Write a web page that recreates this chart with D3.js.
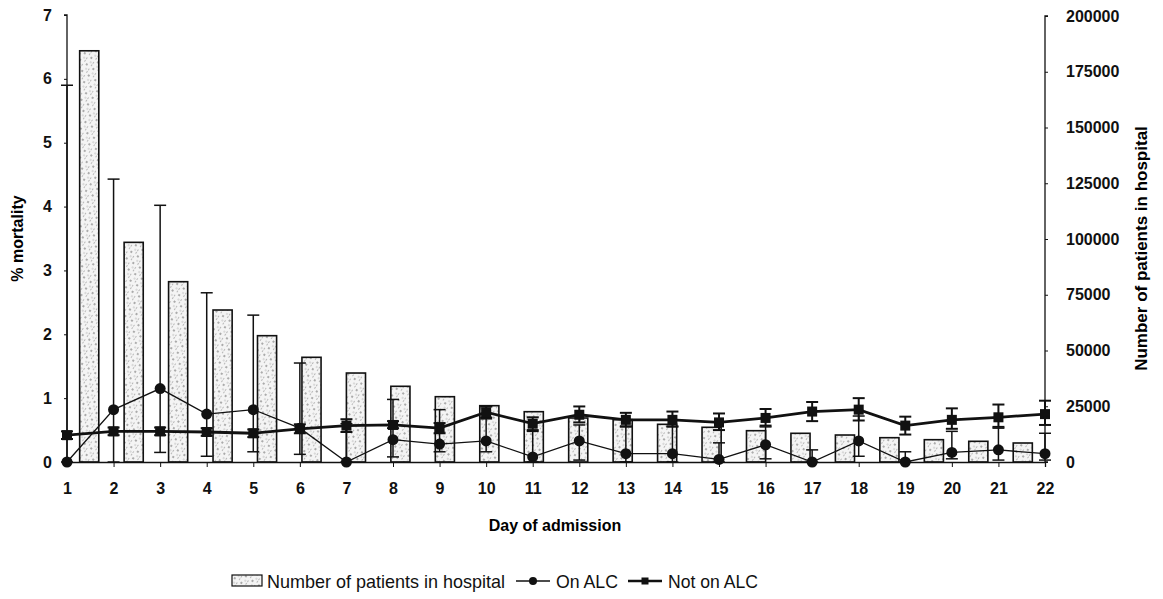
<!DOCTYPE html>
<html>
<head>
<meta charset="utf-8">
<script src="https://cdn.jsdelivr.net/npm/d3@7"></script>
<style>
  body { margin: 0; background: #fff; }
  svg { display: block; font-family: "Liberation Sans", Arial, sans-serif; }
</style>
</head>
<body>
<svg id="chart"></svg>
<script>
const days = d3.range(1, 23);
const patients = [184400, 98500, 80850, 68160, 56640, 46950, 39900, 33950, 29280, 25250, 22560,
                  19730, 18970, 16900, 15560, 14040, 12870, 12100, 10900, 10000, 9280, 8520];
const onALC     = [0, 0.82, 1.15, 0.75, 0.82, 0.53, 0, 0.35, 0.28, 0.33, 0.08,
                   0.33, 0.13, 0.13, 0.04, 0.27, 0, 0.33, 0, 0.15, 0.19, 0.13];
const onALCLow  = [0, 0, 0.15, 0.09, 0.16, 0.12, 0, 0.08, 0.16, 0.16, 0,
                   0.03, 0, 0, 0, 0.05, 0, 0.09, 0, 0.05, 0.03, 0.03];
const onALCHigh = [5.9, 4.43, 4.02, 2.65, 2.30, 1.55, 0.6, 0.98, 0.82, 0.7, 0.48,
                   0.58, 0.55, 0.55, 0.3, 0.55, 0.19, 0.72, 0.16, 0.48, 0.53, 0.45];
const notALC     = [0.42, 0.48, 0.48, 0.47, 0.45, 0.52, 0.57, 0.58, 0.53, 0.78, 0.60,
                    0.74, 0.66, 0.66, 0.62, 0.69, 0.79, 0.82, 0.57, 0.66, 0.70, 0.75];
const notALCLow  = [0.36, 0.42, 0.42, 0.41, 0.39, 0.45, 0.47, 0.53, 0.45, 0.68, 0.5,
                    0.62, 0.56, 0.56, 0.5, 0.57, 0.64, 0.65, 0.43, 0.52, 0.55, 0.58];
const notALCHigh = [0.48, 0.54, 0.54, 0.53, 0.51, 0.59, 0.67, 0.64, 0.61, 0.87, 0.70,
                    0.87, 0.77, 0.79, 0.76, 0.83, 0.94, 1.0, 0.71, 0.84, 0.9, 0.96];
const leftTicks = d3.range(0, 8);
const rightTicks = d3.range(0, 200001, 25000);

const W = 1163, H = 599;
const x0 = 67, x1 = 1045, yTop = 15, yBot = 462;

const svg = d3.select("#chart").attr("width", W).attr("height", H);

// hatch pattern for the bars
const defs = svg.append("defs");
const pat = defs.append("pattern")
    .attr("id", "hatch")
    .attr("patternUnits", "userSpaceOnUse")
    .attr("width", 8).attr("height", 8)
    .attr("patternTransform", "rotate(35)");
pat.append("rect").attr("width", 8).attr("height", 8).attr("fill", "#f4f4f4");
pat.append("line").attr("x1", 0).attr("y1", 0).attr("x2", 0).attr("y2", 8)
    .attr("stroke", "#9a9a9a").attr("stroke-width", 1.3).attr("stroke-dasharray", "2,3");
pat.append("circle").attr("cx", 4).attr("cy", 3).attr("r", 0.9).attr("fill", "#888");
pat.append("circle").attr("cx", 6).attr("cy", 7).attr("r", 0.7).attr("fill", "#aaa");

const x = d3.scaleLinear().domain([1, 22]).range([x0, x1]);
const xb = d3.scaleBand().domain(days).range([x0, x1]).paddingInner(0.57).paddingOuter(0.285);
const yL = d3.scaleLinear().domain([0, 7]).range([yBot, yTop]);
const yR = d3.scaleLinear().domain([0, 200000]).range([yBot, yTop + 1]);

// bars (secondary axis)
svg.append("g").selectAll("rect")
    .data(days)
    .join("rect")
    .attr("x", d => xb(d))
    .attr("width", xb.bandwidth())
    .attr("y", (d, i) => yR(patients[i]))
    .attr("height", (d, i) => yBot - yR(patients[i]))
    .attr("fill", "url(#hatch)")
    .attr("stroke", "#111")
    .attr("stroke-width", 1.6);

// axes
const axL = svg.append("g").attr("transform", `translate(${x0},0)`)
    .call(d3.axisLeft(yL).tickValues(leftTicks).tickSize(3).tickPadding(12).tickFormat(d3.format("d")));
const axR = svg.append("g").attr("transform", `translate(${x1},0)`)
    .call(d3.axisRight(yR).tickValues(rightTicks).tickSize(3).tickPadding(18).tickFormat(d3.format("d")));
const axB = svg.append("g").attr("transform", `translate(0,${yBot})`)
    .call(d3.axisBottom(x).tickValues(days).tickSize(5).tickPadding(16).tickFormat(d3.format("d")));

[axL, axR, axB].forEach(g => {
    g.select(".domain").attr("stroke", "#111").attr("stroke-width", 1.3);
    g.selectAll(".tick line").attr("stroke", "#111");
    g.selectAll("text").attr("font-size", 16).attr("font-weight", "bold")
        .attr("font-family", "'Liberation Sans', Arial, sans-serif").attr("fill", "#111");
});
axR.select(".domain").attr("d", `M3,${yTop + 1}H0V${yBot}H3`);
axL.select(".domain").attr("d", `M-3,${yTop}H0V${yBot}H-3`);

// error bars
function errorBars(low, high, width) {
    const g = svg.append("g").attr("stroke", "#111").attr("stroke-width", width);
    days.forEach((d, i) => {
        const cx = x(d), a = yL(low[i]), b = yL(high[i]);
        g.append("line").attr("x1", cx).attr("x2", cx).attr("y1", a).attr("y2", b);
        g.append("line").attr("x1", cx - 6).attr("x2", cx + 6).attr("y1", a).attr("y2", a);
        g.append("line").attr("x1", cx - 6).attr("x2", cx + 6).attr("y1", b).attr("y2", b);
    });
}
errorBars(onALCLow, onALCHigh, 1.5);
errorBars(notALCLow, notALCHigh, 2);

// lines
const lineOn = d3.line().x((d, i) => x(days[i])).y(d => yL(d));
svg.append("path").datum(onALC).attr("d", lineOn)
    .attr("fill", "none").attr("stroke", "#111").attr("stroke-width", 1.3);
svg.append("path").datum(notALC).attr("d", lineOn)
    .attr("fill", "none").attr("stroke", "#111").attr("stroke-width", 2.8);

svg.append("g").selectAll("circle")
    .data(onALC)
    .join("circle")
    .attr("cx", (d, i) => x(days[i]))
    .attr("cy", d => yL(d))
    .attr("r", 5.5)
    .attr("fill", "#111");
svg.append("g").selectAll("rect")
    .data(notALC)
    .join("rect")
    .attr("x", (d, i) => x(days[i]) - 5)
    .attr("y", d => yL(d) - 5)
    .attr("width", 10).attr("height", 10)
    .attr("fill", "#111");

// titles
svg.append("text")
    .attr("transform", `translate(23,${(yTop + yBot) / 2}) rotate(-90)`)
    .attr("text-anchor", "middle")
    .attr("font-size", 16).attr("font-weight", "bold")
    .text("% mortality");
svg.append("text")
    .attr("transform", `translate(1147,${(yTop + yBot) / 2 + 10}) rotate(-90)`)
    .attr("text-anchor", "middle")
    .attr("font-size", 17).attr("font-weight", "bold")
    .text("Number of patients in hospital");
svg.append("text")
    .attr("x", 555).attr("y", 531)
    .attr("text-anchor", "middle")
    .attr("font-size", 16).attr("font-weight", "bold")
    .text("Day of admission");

// legend
const lg = svg.append("g").attr("font-family", "'Liberation Sans', Arial, sans-serif")
    .attr("font-size", 19).attr("fill", "#111");
lg.append("rect").attr("x", 232).attr("y", 575).attr("width", 30).attr("height", 11)
    .attr("fill", "url(#hatch)").attr("stroke", "#111").attr("stroke-width", 1.2);
lg.append("text").attr("x", 267).attr("y", 588)
    .attr("textLength", 238).attr("lengthAdjust", "spacingAndGlyphs")
    .text("Number of patients in hospital");
lg.append("line").attr("x1", 516).attr("x2", 550).attr("y1", 581).attr("y2", 581)
    .attr("stroke", "#111").attr("stroke-width", 1.5);
lg.append("circle").attr("cx", 533).attr("cy", 581).attr("r", 4).attr("fill", "#111");
lg.append("text").attr("x", 556).attr("y", 588)
    .attr("textLength", 62).attr("lengthAdjust", "spacingAndGlyphs")
    .text("On ALC");
lg.append("line").attr("x1", 628).attr("x2", 662).attr("y1", 581).attr("y2", 581)
    .attr("stroke", "#111").attr("stroke-width", 2.4);
lg.append("rect").attr("x", 641.5).attr("y", 577.5).attr("width", 7).attr("height", 7).attr("fill", "#111");
lg.append("text").attr("x", 668).attr("y", 588)
    .attr("textLength", 90).attr("lengthAdjust", "spacingAndGlyphs")
    .text("Not on ALC");
</script>
</body>
</html>
